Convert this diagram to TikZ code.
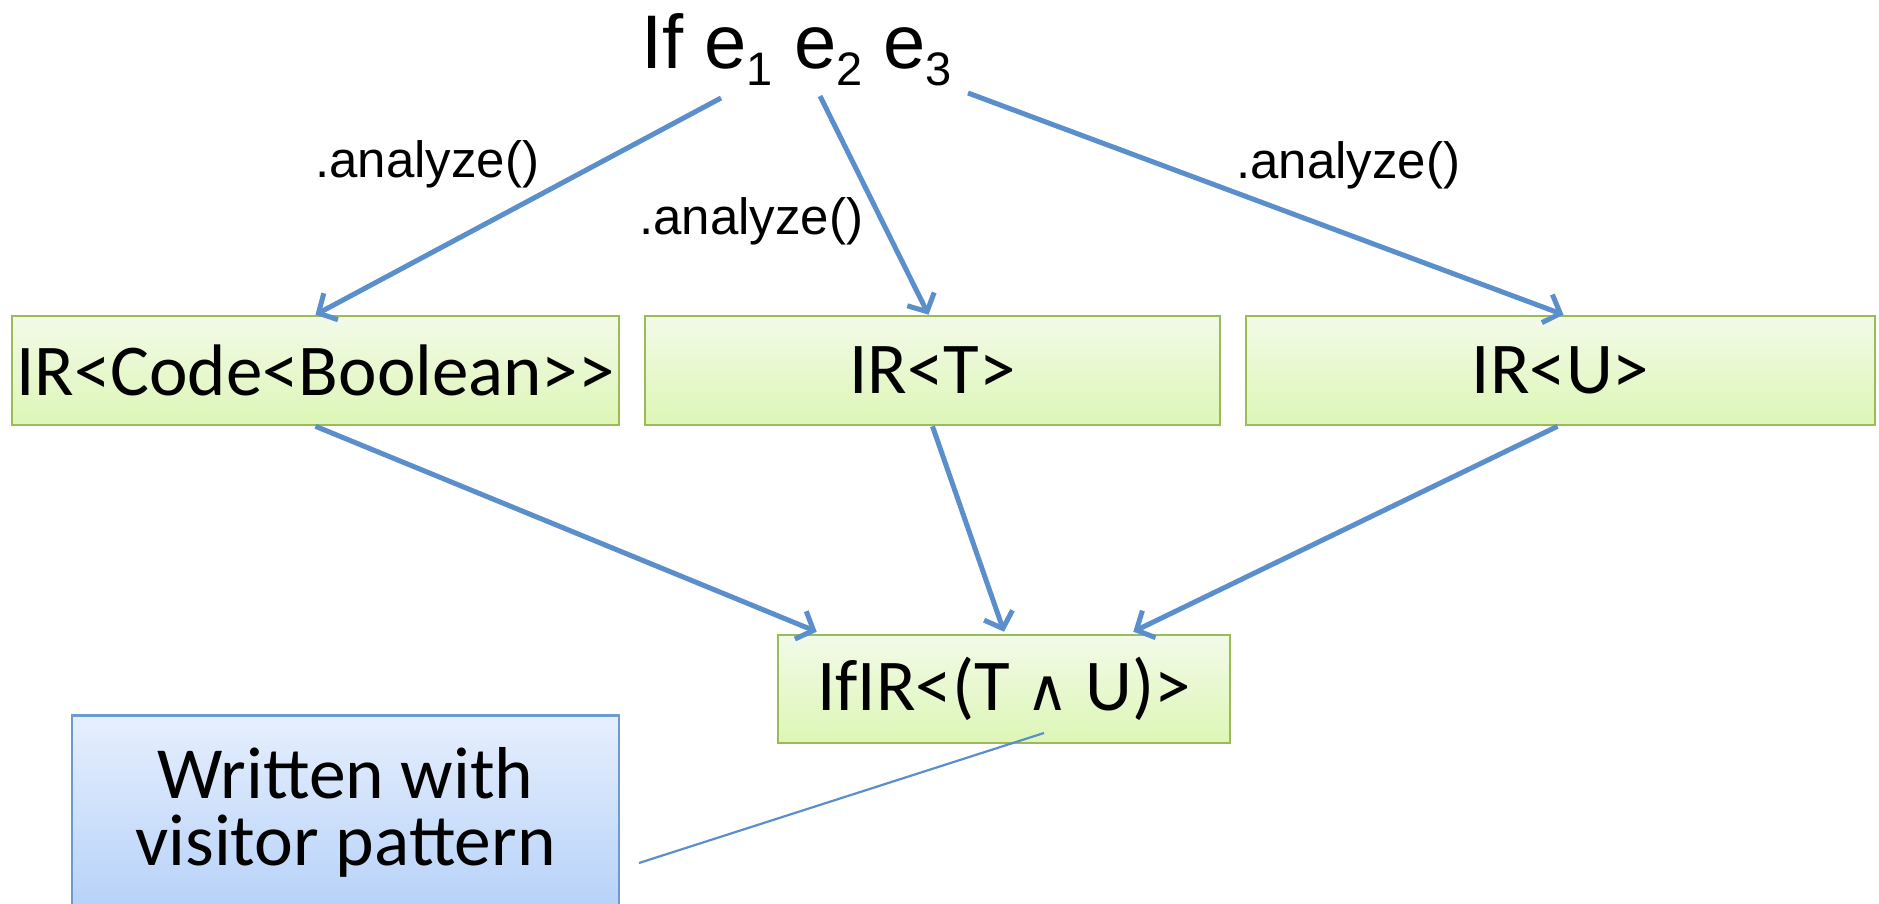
\documentclass[tikz,border=0pt]{standalone}
\usepackage{fontspec}
\setmainfont{Carlito}[Ligatures=TeXOff]
\newfontfamily\arial{Liberation Sans}
\newfontfamily\symfont{DejaVu Sans}
\usetikzlibrary{arrows.meta,calc}
\definecolor{arrowblue}{HTML}{5B8FCB}
\definecolor{boxgreen}{HTML}{9BBB59}
\definecolor{greentop}{HTML}{F2FAE8}
\definecolor{greenbot}{HTML}{DDF6B6}
\definecolor{bluetop}{HTML}{E6EFFD}
\definecolor{bluebot}{HTML}{B0CEF8}
\definecolor{blueedge}{HTML}{6D9ACF}
\newcommand{\lowsub}[1]{\raisebox{-17pt}{\fontsize{47}{47}\selectfont #1}}
\newcommand{\wedgesym}{{\symfont\fontsize{58}{58}\selectfont ∧}}
\tikzset{
  irbox/.style={draw=boxgreen, line width=2.6pt, top color=greentop, bottom color=greenbot,
    inner sep=0pt, minimum height=109pt, font=\fontsize{73}{73}\selectfont},
  notebox/.style={draw=blueedge, line width=2.6pt, top color=bluetop, bottom color=bluebot,
    inner sep=0pt},
  notetext/.style={inner sep=0pt, anchor=base, font=\fontsize{73.5}{73.5}\selectfont},
  lbl/.style={inner sep=0pt, anchor=base west, font=\arial\fontsize{51}{51}\selectfont},
  flow/.style={draw=arrowblue, line width=5pt, -{Straight Barb[length=14pt,width=30pt,line width=5pt]}},
  thin/.style={draw=arrowblue, line width=2.2pt}
}
\begin{document}
\begin{tikzpicture}[x=1pt,y=-1pt]
\clip (0,0) rectangle (1879,903);
\fill[white] (0,0) rectangle (1879,903);

\node[inner sep=0pt, anchor=base west, font=\arial\fontsize{76}{76}\selectfont] (title) at (641,68)
  {If e\lowsub{1} e\lowsub{2} e\lowsub{3}};

\node[irbox, minimum width=607pt] (b1) at (315.5,370.5) {IR<Code<Boolean>>};
\node[irbox, minimum width=575pt] (b2) at (932.5,370.5) {IR<T>};
\node[irbox, minimum width=629pt] (b3) at (1560.5,370.5) {IR<U>};
\node[irbox, minimum width=452pt, minimum height=108pt] (b4) at (1004,689) {IfIR<(T \wedgesym{} U)>};

\node[notebox, minimum width=547pt, minimum height=220pt, anchor=north] (note) at (345.5,714) {};
\node[notetext] (note1) at (345.5,798) {Written with};
\node[notetext] (note2) at (345.5,865) {visitor pattern};

\node[lbl] (l1) at (315,177) {.analyze()};
\node[lbl] (l2) at (639,234) {.analyze()};
\node[lbl] (l3) at (1236,178) {.analyze()};

\coordinate (s1) at (721,98);
\coordinate (s2) at (820,96);
\coordinate (s3) at (968,93);
\coordinate (t1) at (1044,733);
\coordinate (t2) at (639,863);

\draw[flow] (s1) -- (b1.north);
\draw[flow] (s2) -- ($(b2.north)+(-4,0)$);
\draw[flow] (s3) -- ($(b3.north)+(3,0)$);
\draw[flow] (b1.south) -- ($(b4.north west)+(40,-2)$);
\draw[flow] (b2.south) -- ($(b4.north)+(0,-2)$);
\draw[flow] ($(b3.south)+(-3,0)$) -- ($(b4.north east)+(-98,-2)$);
\draw[thin] (t1) -- (t2);
\end{tikzpicture}
\end{document}
